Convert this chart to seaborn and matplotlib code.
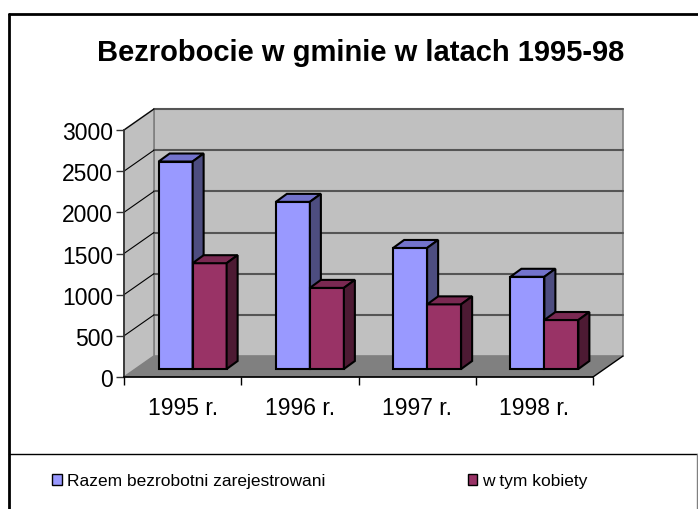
import numpy as np
import pandas as pd
import seaborn as sns
import matplotlib
matplotlib.use("Agg")
import matplotlib.pyplot as plt
from matplotlib.patches import Polygon, Rectangle, Patch
from matplotlib.lines import Line2D

# Bezrobocie w gminie 1995-98
lata = ["1995 r.", "1996 r.", "1997 r.", "1998 r."]
razem = [2520, 2030, 1470, 1120]
kobiety = [1285, 985, 785, 595]
serie = ["Razem bezrobotni zarejestrowani", "w tym kobiety"]
y_ticks = [0, 500, 1000, 1500, 2000, 2500, 3000]

df = pd.DataFrame({
    "rok": lata * 2,
    "liczba": razem + kobiety,
    "seria": [serie[0]] * 4 + [serie[1]] * 4,
})

front = ["#9999FF", "#993366"]
top = ["#7373CC", "#7A2952"]
side = ["#4D4D80", "#4D1A33"]

sns.set_theme(style="white")
plt.rcParams["font.family"] = ["Liberation Sans", "DejaVu Sans"]
plt.rcParams["text.color"] = "black"
plt.rcParams["xtick.color"] = "black"
plt.rcParams["ytick.color"] = "black"

W, H = 698, 510
fig = plt.figure(figsize=(W / 100, H / 100), dpi=100)
# front plane of the 3D box, in pixels
x0, x1, yb, yt = 124, 593, 378, 131
ax = fig.add_axes([x0 / W, 1 - yb / H, (x1 - x0) / W, (yb - yt) / H])
ax.set_xlim(-0.5, 3.5)
ax.set_ylim(0, 3000)
ax.patch.set_visible(False)

# pixels -> data units
ux = (x1 - x0) / 4.0
uy = (yb - yt) / 3000.0
DX, DY = 30 / ux, 21 / uy          # full depth of the floor
bx0, by0 = 10 / ux, 8 / uy         # bar front plane
bdx, bdy = 11 / ux, 8 / uy         # bar depth

# walls and floor
ax.add_patch(Rectangle((-0.5 + DX, DY), 4, 3000, facecolor="#C0C0C0",
                       edgecolor="#808080", lw=1.2, zorder=0.5, clip_on=False))
ax.add_patch(Polygon([(-0.5, 0), (-0.5, 3000), (-0.5 + DX, 3000 + DY), (-0.5 + DX, DY)],
                     closed=True, facecolor="#C0C0C0", edgecolor="#808080", lw=1.2,
                     zorder=0.5, clip_on=False))
ax.add_patch(Polygon([(-0.5, 0), (3.5, 0), (3.5 + DX, DY), (-0.5 + DX, DY)],
                     closed=True, facecolor="#808080", edgecolor="none",
                     zorder=0.6, clip_on=False))
ax.plot([3.5, 3.5 + DX], [0, DY], color="black", lw=1, zorder=0.7, clip_on=False)
for v in y_ticks[1:]:
    ax.plot([-0.5 + DX, 3.5 + DX], [v + DY, v + DY], color="#555555", lw=1.5,
            zorder=0.7, clip_on=False)
    ax.plot([-0.5, -0.5 + DX], [v, v + DY], color="black", lw=0.8,
            zorder=0.7, clip_on=False)

# bars
sns.barplot(data=df, x="rok", y="liczba", hue="seria", palette=front,
            width=0.58, saturation=1, edgecolor="black", linewidth=1.5,
            legend=False, ax=ax)

bars = [p for p in ax.patches if isinstance(p, Rectangle) and p.get_height() > 0
        and p.get_facecolor()[:3] in [matplotlib.colors.to_rgb(c) for c in front]]
for p in bars:
    k = 0 if np.allclose(p.get_facecolor()[:3], matplotlib.colors.to_rgb(front[0])) else 1
    x = p.get_x() + bx0
    w = p.get_width()
    h = p.get_height()
    p.set_x(x)
    p.set_y(by0)
    p.set_zorder(2 + k)
    p.set_clip_on(False)
    y = by0
    ax.add_patch(Polygon([(x, y + h), (x + w, y + h), (x + w + bdx, y + h + bdy), (x + bdx, y + h + bdy)],
                         closed=True, facecolor=top[k], edgecolor="black", lw=1.5,
                         zorder=2 + k, clip_on=False))
    ax.add_patch(Polygon([(x + w, y), (x + w, y + h), (x + w + bdx, y + h + bdy), (x + w + bdx, y + bdy)],
                         closed=True, facecolor=side[k], edgecolor="black", lw=1.5,
                         zorder=2 + k, clip_on=False))

# axes
for s in ["top", "right"]:
    ax.spines[s].set_visible(False)
ax.spines["left"].set_color("#333333")
ax.spines["bottom"].set_color("black")
ax.spines["left"].set_zorder(4)
ax.spines["bottom"].set_zorder(4)
ax.set_yticks(y_ticks)
ax.set_xticks(range(4))
ax.set_xticklabels(lata)
ax.set_xticks(np.arange(-0.5, 4, 1), minor=True)
ax.tick_params(axis="y", which="major", length=6, width=1, color="#333333",
               labelsize=16.5, pad=2, left=True)
ax.tick_params(axis="x", which="major", length=0, labelsize=16.5, pad=14)
ax.tick_params(axis="x", which="minor", length=6, width=1, color="black", bottom=True)
ax.set_xlabel("")
ax.set_ylabel("")

fig.text(361 / W, 1 - 53 / H, "Bezrobocie w gminie w latach 1995-98",
         fontsize=21, fontweight="bold", ha="center", va="center")

# frame and legend box
fig.add_artist(Line2D([9 / W, 9 / W], [0, 1 - 15 / H], color="black", lw=2,
                      transform=fig.transFigure))
fig.add_artist(Line2D([9 / W, 1], [1 - 15 / H, 1 - 15 / H], color="black", lw=2,
                      transform=fig.transFigure))
fig.add_artist(Line2D([9 / W, 697 / W], [1 - 455 / H, 1 - 455 / H], color="black", lw=1,
                      transform=fig.transFigure))
fig.add_artist(Line2D([697 / W, 697 / W], [0, 1 - 455 / H], color="#808080", lw=1,
                      transform=fig.transFigure))

handles = [Patch(facecolor=front[i], edgecolor="black", lw=1) for i in range(2)]
fig.legend(handles, serie, loc="center", bbox_to_anchor=(320 / W, 1 - 482 / H),
           ncol=2, frameon=False, fontsize=12.5, handlelength=0.55, handleheight=0.55,
           handletextpad=0.3, columnspacing=8.2)

fig.savefig("out.png", dpi=100)
